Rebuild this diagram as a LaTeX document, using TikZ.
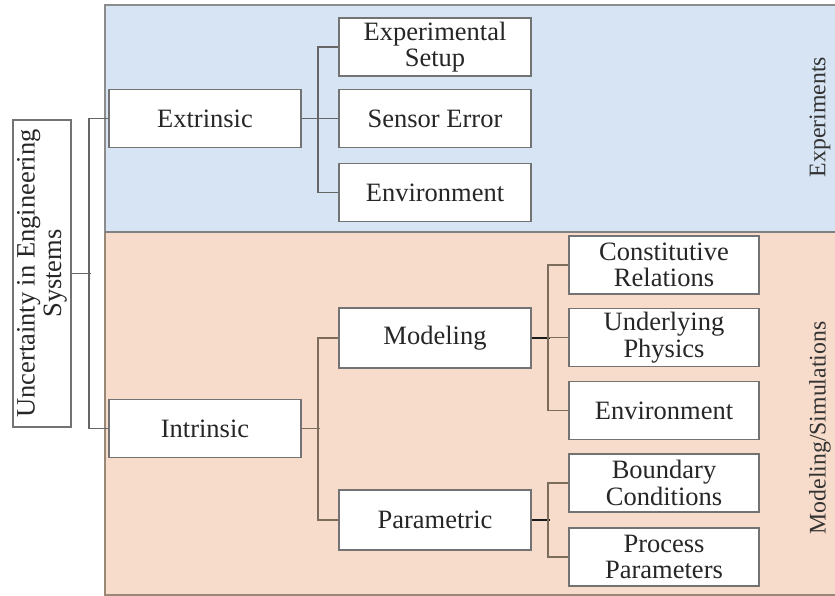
\documentclass[tikz,border=0pt]{standalone}
\usepackage{fontspec}
\setmainfont{Liberation Serif}
\begin{document}
\begin{tikzpicture}[x=1pt,y=-1pt,
  txt/.style={text=black!85, font=\fontsize{26.5}{26.5}\selectfont},
  box/.style={txt, draw=black!55, line width=1.4pt, fill=white, inner sep=0pt, align=center,
              minimum width=192pt, minimum height=58pt},
  leaf/.style={box, minimum width=190pt},
  sidelabel/.style={text=black!80, font=\fontsize{23.8}{24}\selectfont, rotate=90},
  linkA/.style={draw=black!60, line width=1.8pt},
  linkB/.style={draw=black!65!brown!70, line width=1.8pt},
]
\useasboundingbox (0,0) rectangle (835,596);
\clip (0,0) rectangle (835,596);

% background bands
\fill[fill={rgb,255:red,214;green,228;blue,243}] (105,5) rectangle (836,232);
\fill[fill={rgb,255:red,248;green,220;blue,203}] (105,232) rectangle (836,595);
\draw[draw=black!45, line width=1.6pt] (105,232) -- (105,5) -- (836,5);
\draw[draw=black!55!brown!60, line width=1.6pt] (105,232) -- (105,595) -- (836,595);
\draw[draw=black!50, line width=1.6pt] (105,232) -- (836,232);

\node[sidelabel] (lblexp) at (820,117) {Experiments};
\node[sidelabel] (lblmod) at (820,428) {Modeling/Simulations};

% root
\node[box, rotate=90, minimum width=307pt, minimum height=58pt] (root) at (42,273.5)
  {Uncertainty in Engineering\\Systems};

% first level
\node[box] (ext) at (205,118.5) {Extrinsic};
\node[box] (int) at (205,428.5) {Intrinsic};

% extrinsic children
\node[box] (setup) at (435,47) {Experimental\\Setup};
\node[box] (sensor) at (435,118.5) {Sensor Error};
\node[box] (envA) at (435,192.5) {Environment};

% intrinsic children
\node[box, minimum height=60pt] (model) at (435,338) {Modeling};
\node[box, minimum height=60pt] (param) at (435,520) {Parametric};

% modeling children
\node[leaf] (const) at (664,265) {Constitutive\\Relations};
\node[leaf] (phys) at (664,337.5) {Underlying\\Physics};
\node[leaf] (envB) at (664,410.5) {Environment};

% parametric children
\node[leaf] (bound) at (664,483) {Boundary\\Conditions};
\node[leaf] (proc) at (664,557) {Process\\Parameters};

% connectors
\draw[linkA] (root.south) -- ++(19,0);
\draw[linkA] (ext.west) -- ++(-19,0) |- (int.west);

\draw[linkA] (ext.east) -- ++(18,0);
\draw[linkA] (setup.west) -- ++(-20,0) |- (envA.west);
\draw[linkA] (sensor.west) -- ++(-20,0);

\draw[linkB] (int.east) -- ++(18,0);
\draw[linkB] (model.west) -- ++(-20,0) |- (param.west);

\draw[linkB, draw=black!90] (model.east) -- ++(18,0);
\draw[linkB] (const.west) -- ++(-20,0) |- (envB.west);
\draw[linkB] (phys.west) -- ++(-20,0);

\draw[linkB, draw=black!90] (param.east) -- ++(18,0);
\draw[linkB] (bound.west) -- ++(-20,0) |- (proc.west);
\end{tikzpicture}
\end{document}
